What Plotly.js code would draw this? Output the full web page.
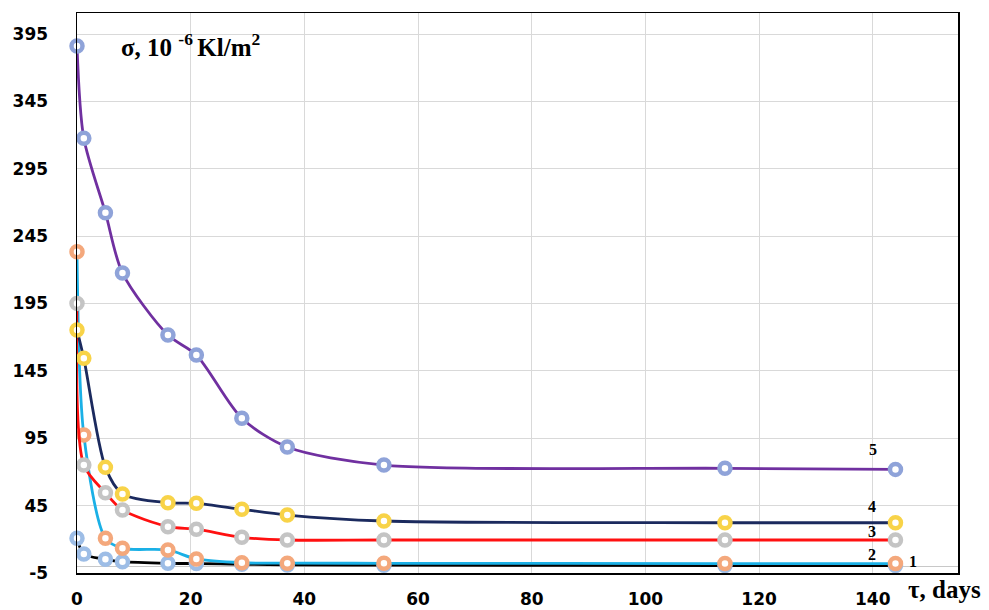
<!DOCTYPE html>
<html>
<head>
<meta charset="utf-8">
<script src="https://cdn.plot.ly/plotly-3.0.1.min.js"></script>
<style>html,body{margin:0;padding:0;background:#fff;}#chart{width:989px;height:610px;}</style>
</head>
<body>
<div id="chart"></div>
<script>
// Time, days
const days = [0, 1.2, 5, 8, 16, 21, 29, 37, 54, 114, 144];
// Surface charge density, 10^-6 Kl/m^2
const series1 = [20.8, 9.1, 5.2, 3.4, 2.2, 2.0, 1.5, 1.0, 0.8, 0.5, 0.5];
const series2 = [233.4, 97.4, 20.8, 13.3, 12.1, 5.4, 2.6, 2.3, 2.2, 2.0, 2.0];
const series3 = [195.1, 75.1, 54.6, 41.8, 29.4, 27.5, 21.5, 19.5, 19.5, 19.5, 19.5];
const series4 = [175.3, 154.3, 73.4, 53.6, 47.2, 46.7, 42.3, 38.0, 33.6, 32.3, 32.3];
const series5 = [386.1, 317.6, 262.4, 217.6, 171.6, 156.8, 109.8, 88.5, 75.1, 72.7, 71.9];
const seriesNames = ['1', '2', '3', '4', '5'];
const xTickVals = [0, 20, 40, 60, 80, 100, 120, 140];
const yTickVals = [-5, 45, 95, 145, 195, 245, 295, 345, 395];
// label positions for curve numbers
const labelX = [147.1, 139.9, 139.9, 139.9, 140.0];
const labelY = [3.6, 8.4, 26.0, 44.3, 86.5];

const lineColors = ['#000000', '#1AB0E6', '#FF1010', '#1B2A5E', '#7030A0'];
const markerColors = ['#9DBDE6', '#F4A87C', '#C4C4C4', '#F8D348', '#8FA3D9'];
const allSeries = [series1, series2, series3, series4, series5];

const traces = allSeries.map((ys, i) => ({
  x: days,
  y: ys,
  name: seriesNames[i],
  type: 'scatter',
  mode: 'lines+markers',
  line: {color: lineColors[i], width: 2.8, shape: 'spline', smoothing: 0.8},
  marker: {symbol: 'circle', size: 11, color: '#ffffff', line: {color: markerColors[i], width: 4.5}},
  cliponaxis: false,
  showlegend: false
}));

const serif = 'Liberation Serif, Times New Roman, serif';
const annotations = seriesNames.map((n, i) => ({
  x: labelX[i], y: labelY[i], xref: 'x', yref: 'y',
  text: n, showarrow: false,
  font: {family: serif, size: 16, color: '#000', weight: 'bold'}
}));
annotations.push({
  xref: 'paper', yref: 'paper', x: 0.048, y: 0.943, xanchor: 'left', yanchor: 'middle',
  text: 'σ, 10 <sup>-6 </sup>Kl/m<sup>2</sup>', showarrow: false,
  font: {family: serif, size: 25, color: '#000', weight: 'bold'}
});
annotations.push({
  xref: 'paper', yref: 'paper', x: 0.941, y: -0.03, xanchor: 'left', yanchor: 'middle',
  text: 'τ, days', showarrow: false,
  font: {family: serif, size: 25, color: '#000', weight: 'bold'}
});

const tickFont = {family: 'DejaVu Sans, Verdana, sans-serif', size: 17, color: '#000', weight: 'bold'};

const layout = {
  width: 989, height: 610,
  margin: {l: 77, r: 31, t: 13, b: 37},
  paper_bgcolor: '#ffffff', plot_bgcolor: '#ffffff',
  xaxis: {
    range: [0, 155], tickvals: xTickVals, ticktext: xTickVals.map(String),
    showgrid: true, gridcolor: '#d9d9d9', gridwidth: 1,
    zeroline: false, showline: true, linecolor: '#000', linewidth: 1.5, mirror: true,
    ticks: '', tickfont: tickFont, ticklabelstandoff: 10
  },
  yaxis: {
    range: [-5, 410.6], tickvals: yTickVals, ticktext: yTickVals.map(String),
    showgrid: true, gridcolor: '#d9d9d9', gridwidth: 1,
    zeroline: true, zerolinecolor: '#c8c8c8', zerolinewidth: 1,
    showline: true, linecolor: '#000', linewidth: 1.5, mirror: true,
    ticks: '', tickfont: tickFont, ticklabelstandoff: 24
  },
  annotations: annotations
};

Plotly.newPlot('chart', traces, layout, {staticPlot: true, displayModeBar: false});
</script>
</body>
</html>
